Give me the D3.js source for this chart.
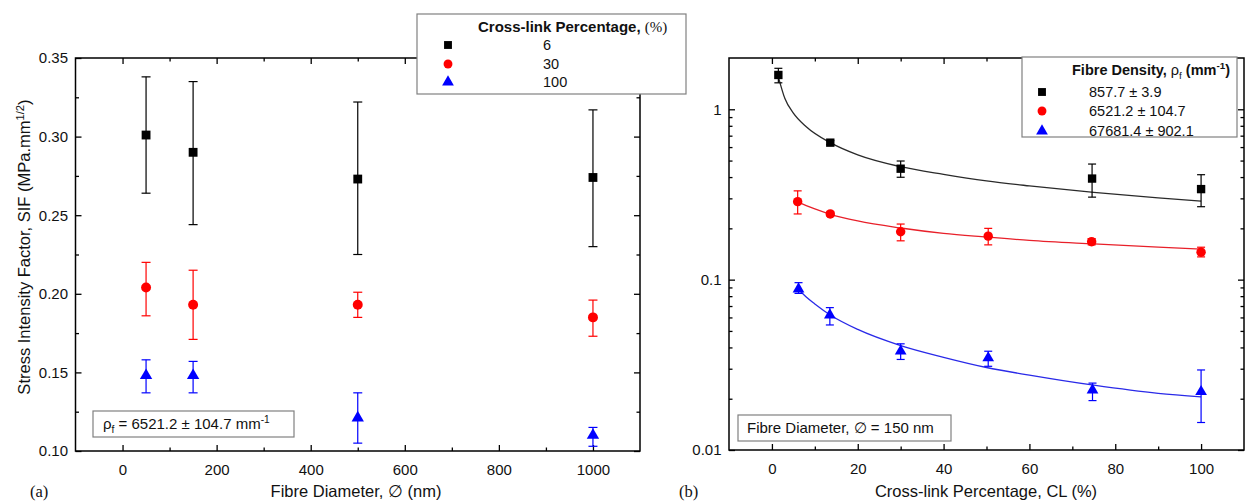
<!DOCTYPE html>
<html>
<head>
<meta charset="utf-8">
<script src="https://cdn.jsdelivr.net/npm/d3@7"></script>
<style>
body { margin: 0; background: #fff; }
svg { font-family: "Liberation Sans", Arial, sans-serif; }
</style>
</head>
<body>
<svg width="1246" height="501"></svg>
<script>
// (a) SIF against fibre diameter, one series per cross-link percentage
const diameters = [50, 150, 500, 1000]
const clLabels = ["6", "30", "100"]
const sifCL6 = [0.301, 0.290, 0.273, 0.274]
const sifCL6Lo = [0.264, 0.244, 0.225, 0.230]
const sifCL6Hi = [0.338, 0.335, 0.322, 0.317]
const sifCL30 = [0.204, 0.193, 0.193, 0.185]
const sifCL30Lo = [0.186, 0.171, 0.185, 0.173]
const sifCL30Hi = [0.220, 0.215, 0.201, 0.196]
const sifCL100 = [0.148, 0.148, 0.121, 0.110]
const sifCL100Lo = [0.137, 0.137, 0.105, 0.103]
const sifCL100Hi = [0.158, 0.157, 0.137, 0.115]
const xTicksA = [0, 200, 400, 600, 800, 1000]
const xMinorA = [100, 300, 500, 700, 900]
const yTicksA = [0.10, 0.15, 0.20, 0.25, 0.30, 0.35]
const yMinorA = [0.125, 0.175, 0.225, 0.275, 0.325]

// (b) SIF against cross-link percentage, one series per fibre density
const densityLabels = ["857.7 \u00b1 3.9", "6521.2 \u00b1 104.7", "67681.4 \u00b1 902.1"]
const clLow = [1.5, 13.6, 30, 74.6, 100]
const sifLow = [1.59, 0.637, 0.448, 0.392, 0.340]
const sifLowLo = [1.43, 0.62, 0.399, 0.305, 0.268]
const sifLowHi = [1.74, 0.655, 0.497, 0.477, 0.413]
const clMid = [6, 13.6, 30, 50.4, 74.5, 100]
const sifMid = [0.287, 0.243, 0.191, 0.180, 0.167, 0.145]
const sifMidLo = [0.243, 0.236, 0.169, 0.160, 0.160, 0.136]
const sifMidHi = [0.332, 0.250, 0.212, 0.200, 0.174, 0.155]
const clHigh = [6.2, 13.5, 30, 50.4, 74.7, 100]
const sifHigh = [0.088, 0.062, 0.038, 0.0347, 0.0225, 0.022]
const sifHighLo = [0.083, 0.0542, 0.034, 0.031, 0.0195, 0.0145]
const sifHighHi = [0.096, 0.0685, 0.042, 0.038, 0.0247, 0.0295]
// fitted curves
const fitLowX = [1.5, 3, 5, 8, 13.6, 20, 30, 40, 50, 60, 75, 90, 100]
const fitLowY = [1.55, 1.16, 0.95, 0.79, 0.637, 0.54, 0.46, 0.415, 0.38, 0.355, 0.325, 0.302, 0.289]
const fitMidX = [6, 8, 10, 13.6, 20, 30, 40, 50, 60, 75, 90, 100]
const fitMidY = [0.286, 0.272, 0.26, 0.242, 0.221, 0.201, 0.187, 0.178, 0.17, 0.162, 0.155, 0.151]
const fitHighX = [6, 8, 10, 13.6, 20, 30, 40, 50, 60, 75, 90, 100]
const fitHighY = [0.089, 0.079, 0.072, 0.062, 0.051, 0.041, 0.035, 0.0305, 0.0275, 0.024, 0.0215, 0.0205]
const xTicksB = [0, 20, 40, 60, 80, 100]
const xMinorB = [10, 30, 50, 70, 90]
const yTicksB = [0.01, 0.1, 1]
const yMinorB = [0.02, 0.03, 0.04, 0.05, 0.06, 0.07, 0.08, 0.09, 0.2, 0.3, 0.4, 0.5, 0.6, 0.7, 0.8, 0.9]

const svg = d3.select("svg")

const xA = d3.scaleLinear().domain([-100, 1100]).range([75.5, 640])
const yA = d3.scaleLinear().domain([0.10, 0.35]).range([451, 58])
const xB = d3.scaleLinear().domain([-10, 110]).range([729, 1244])
const yB = d3.scaleLog().domain([0.01, 2]).range([450, 58])

function tickRow(axis, transform, values, size, format, padding) {
    svg.append("g")
        .attr("transform", transform)
        .call(axis.tickValues(values).tickSizeInner(-size).tickSizeOuter(0)
            .tickPadding(padding || 0).tickFormat(format || (() => "")))
        .call(g => g.select(".domain").remove())
        .call(g => g.selectAll("line").attr("stroke", "#000").attr("stroke-width", 1.3))
        .call(g => g.attr("font-family", null).attr("font-size", 15)
            .selectAll("text").attr("fill", "#111"))
}

function frame(x, y, xMajor, xMinor, yMajor, yMinor, yFormat) {
    const [left, right] = x.range()
    const [bottom, top] = y.range()
    tickRow(d3.axisBottom(x), `translate(0,${bottom})`, xMajor, 6, d3.format("d"), 13)
    tickRow(d3.axisBottom(x), `translate(0,${bottom})`, xMinor, 3.5)
    tickRow(d3.axisTop(x), `translate(0,${top})`, xMajor, 6)
    tickRow(d3.axisTop(x), `translate(0,${top})`, xMinor, 3.5)
    tickRow(d3.axisLeft(y), `translate(${left},0)`, yMajor, 6, yFormat, 7.5)
    tickRow(d3.axisLeft(y), `translate(${left},0)`, yMinor, 3.5)
    tickRow(d3.axisRight(y), `translate(${right},0)`, yMajor, 6)
    tickRow(d3.axisRight(y), `translate(${right},0)`, yMinor, 3.5)
    svg.append("rect")
        .attr("x", left).attr("y", top)
        .attr("width", right - left).attr("height", bottom - top)
        .attr("fill", "none").attr("stroke", "#000").attr("stroke-width", 1.5)
}

function drawSeries(x, y, xs, s, cap, size) {
    const pts = xs.map((v, i) => ({x: v, y: s.y[i], lo: s.lo[i], hi: s.hi[i]}))
    const bars = svg.append("g").attr("stroke", s.color).attr("stroke-width", 1.2)
    bars.selectAll("line.v").data(pts).join("line")
        .attr("x1", d => x(d.x)).attr("x2", d => x(d.x))
        .attr("y1", d => y(d.lo)).attr("y2", d => y(d.hi))
    for (const k of ["lo", "hi"]) {
        bars.selectAll("line." + k).data(pts).join("line").attr("class", k)
            .attr("x1", d => x(d.x) - cap).attr("x2", d => x(d.x) + cap)
            .attr("y1", d => y(d[k])).attr("y2", d => y(d[k]))
    }
    svg.append("g").selectAll("path").data(pts).join("path")
        .attr("transform", d => `translate(${x(d.x)},${y(d.y)})`)
        .attr("d", d3.symbol(s.symbol, s.symbol === d3.symbolTriangle ? size * 0.85 : size))
        .attr("fill", s.color)
}

function drawFit(x, y, xs, ys, color) {
    const line = d3.line().x(d => x(d[0])).y(d => y(d[1])).curve(d3.curveMonotoneX)
    svg.append("path")
        .attr("d", line(d3.zip(xs, ys)))
        .attr("fill", "none").attr("stroke", color).attr("stroke-width", 1.3)
}

// text with sub/superscript pieces: [text, "sub"|"sup"|null, weight, family]
function richText(sel, parts, size) {
    let shift = 0
    parts.forEach(([t, kind, weight, family]) => {
        const target = kind === "sub" ? 4 : kind === "sup" ? -6 : 0
        const ts = sel.append("tspan").attr("dy", target - shift).text(t)
        if (kind) ts.attr("font-size", size * 0.68)
        if (weight) ts.attr("font-weight", weight)
        if (family) ts.attr("font-family", family)
        shift = target
    })
}

const symbols = [d3.symbolSquare, d3.symbolCircle, d3.symbolTriangle]
const colors = ["#000000", "#ff0000", "#0000ff"]

// ---------- panel (a)
frame(xA, yA, xTicksA, xMinorA, yTicksA, yMinorA, d3.format(".2f"))

const seriesA = [
    {y: sifCL6, lo: sifCL6Lo, hi: sifCL6Hi},
    {y: sifCL30, lo: sifCL30Lo, hi: sifCL30Hi},
    {y: sifCL100, lo: sifCL100Lo, hi: sifCL100Hi}
]
seriesA.forEach((s, i) => {
    s.color = colors[i]
    s.symbol = symbols[i]
    drawSeries(xA, yA, diameters, s, 4.5, 78)
})

svg.append("text")
    .attr("transform", "translate(30,247) rotate(-90)")
    .attr("text-anchor", "middle").attr("font-size", 16.5).attr("fill", "#111")
    .call(t => richText(t, [["Stress Intensity Factor, SIF (MPa.mm"], ["1/2", "sup"], [")"]], 16.5))

svg.append("text").attr("x", 356).attr("y", 497)
    .attr("text-anchor", "middle").attr("font-size", 16.5).attr("fill", "#111")
    .text("Fibre Diameter, \u2205 (nm)")
svg.append("text").attr("x", 30).attr("y", 497)
    .attr("font-family", "Liberation Serif, serif").attr("font-size", 16.5).attr("fill", "#111")
    .text("(a)")

svg.append("rect").attr("x", 93).attr("y", 411).attr("width", 201).attr("height", 26)
    .attr("fill", "#fff").attr("stroke", "#808080").attr("stroke-width", 1.2)
svg.append("text").attr("x", 103).attr("y", 429).attr("font-size", 15).attr("fill", "#111")
    .call(t => richText(t, [["\u03c1"], ["f", "sub"], [" = 6521.2 \u00b1 104.7 mm"], ["-1", "sup"]], 15))

const legA = svg.append("g")
legA.append("rect").attr("x", 417).attr("y", 14).attr("width", 269).attr("height", 80)
    .attr("fill", "#fff").attr("stroke", "#808080").attr("stroke-width", 1.2)
legA.append("text").attr("x", 478).attr("y", 32).attr("font-size", 15).attr("fill", "#111")
    .call(t => richText(t, [["Cross-link Percentage, ", null, "bold"], ["(%)", null, null, "Liberation Serif, serif"]], 15))
clLabels.forEach((lab, i) => {
    const cy = [45, 64, 82][i]
    legA.append("path").attr("transform", `translate(448,${cy})`)
        .attr("d", d3.symbol(symbols[i], i === 2 ? 60 : 62)).attr("fill", colors[i])
    legA.append("text").attr("x", 543).attr("y", cy + 5).attr("font-size", 14.5).attr("fill", "#111").text(lab)
})

// ---------- panel (b)
frame(xB, yB, xTicksB, xMinorB, yTicksB, yMinorB, d => d >= 1 ? "1" : String(d))

drawFit(xB, yB, fitLowX, fitLowY, "#2a2a2a")
drawFit(xB, yB, fitMidX, fitMidY, "#e8202a")
drawFit(xB, yB, fitHighX, fitHighY, "#2a2ae8")

const seriesB = [
    {x: clLow, y: sifLow, lo: sifLowLo, hi: sifLowHi},
    {x: clMid, y: sifMid, lo: sifMidLo, hi: sifMidHi},
    {x: clHigh, y: sifHigh, lo: sifHighLo, hi: sifHighHi}
]
seriesB.forEach((s, i) => {
    s.color = colors[i]
    s.symbol = symbols[i]
    drawSeries(xB, yB, s.x, s, 4, 70)
})

svg.append("text").attr("x", 986).attr("y", 497)
    .attr("text-anchor", "middle").attr("font-size", 16.5).attr("fill", "#111")
    .text("Cross-link Percentage, CL (%)")
svg.append("text").attr("x", 679).attr("y", 497)
    .attr("font-family", "Liberation Serif, serif").attr("font-size", 16.5).attr("fill", "#111")
    .text("(b)")

svg.append("rect").attr("x", 738).attr("y", 415).attr("width", 213).attr("height", 26)
    .attr("fill", "#fff").attr("stroke", "#808080").attr("stroke-width", 1.2)
svg.append("text").attr("x", 747).attr("y", 433).attr("font-size", 15).attr("fill", "#111")
    .text("Fibre Diameter, \u2205 = 150 nm")

const legB = svg.append("g")
legB.append("rect").attr("x", 1022).attr("y", 57).attr("width", 215).attr("height", 80)
    .attr("fill", "#fff").attr("stroke", "#808080").attr("stroke-width", 1.2)
legB.append("text").attr("x", 1072).attr("y", 75).attr("font-size", 14.5).attr("fill", "#111")
    .call(t => richText(t, [["Fibre Density, ", null, "bold"], ["\u03c1"], ["f", "sub"], [" (mm", null, "bold"], ["-1", "sup", "bold"], [")", null, "bold"]], 14.5))
densityLabels.forEach((lab, i) => {
    const cy = [92, 111, 131][i]
    legB.append("path").attr("transform", `translate(1042,${cy})`)
        .attr("d", d3.symbol(symbols[i], i === 2 ? 60 : 62)).attr("fill", colors[i])
    legB.append("text").attr("x", 1089).attr("y", cy + 5).attr("font-size", 14.5).attr("fill", "#111").text(lab)
})
</script>
</body>
</html>
